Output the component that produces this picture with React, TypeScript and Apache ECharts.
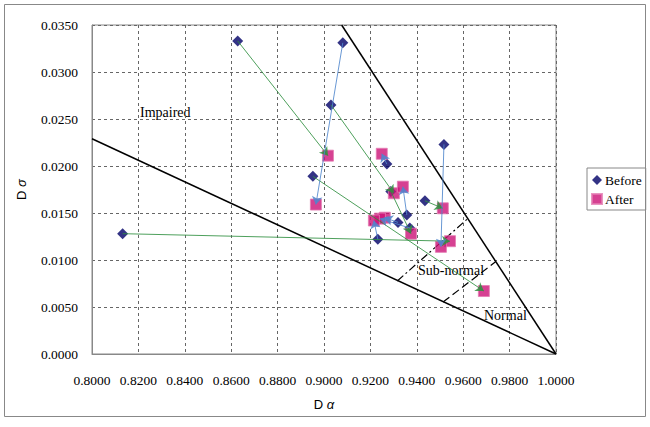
import React, { useEffect, useRef } from "react";
import * as echarts from "echarts";

// Before (diamonds) and After (squares), paired by index
const beforeX = [0.8132, 0.8628, 0.9081, 0.9030, 0.8952, 0.9271, 0.9357, 0.9319, 0.9370, 0.9232, 0.9517, 0.9435, 0.9288];
const beforeY = [0.0128, 0.0333, 0.0331, 0.0265, 0.0189, 0.0202, 0.0148, 0.0140, 0.0134, 0.0122, 0.0223, 0.0163, 0.0173];
const afterX = [0.9543, 0.9017, 0.8965, 0.9301, 0.9689, 0.9249, 0.9340, 0.9262, 0.9241, 0.9215, 0.9504, 0.9512, 0.9375];
const afterY = [0.0120, 0.0211, 0.0159, 0.0171, 0.0067, 0.0213, 0.0178, 0.0145, 0.0144, 0.0142, 0.0114, 0.0155, 0.0128];
const arrowKind = ["g", "g", "b", "g", "g", "b", "b", "b", "b", "b", "b", "g", "g"];

// Region boundaries
const impairedLine = [[0.8, 0.0229], [1.0, 0.0]];
const normalEdge = [[0.9076, 0.035], [1.0, 0.0]];
const subNormalInner = [[0.9316, 0.00777], [0.962, 0.01441]];
const subNormalOuter = [[0.9513, 0.00553], [0.9741, 0.00983]];

const xTicks = { min: 0.8, max: 1.0, interval: 0.02 };
const yTicks = { min: 0, max: 0.035, interval: 0.005 };

const SERIF = "'Liberation Serif', 'Times New Roman', serif";
const SANS = "'Liberation Sans', Arial, sans-serif";

export default function App() {
  const ref = useRef<HTMLDivElement>(null);
  useEffect(() => {
    if (!ref.current) return;
    const chart = echarts.init(ref.current, undefined, { renderer: "svg" });
    const greenArrows = [];
    const blueArrows = [];
    for (let i = 0; i < beforeX.length; i++) {
      const d = { coords: [[beforeX[i], beforeY[i]], [afterX[i], afterY[i]]] };
      if (arrowKind[i] === "g") greenArrows.push(d);
      else blueArrows.push(d);
    }
    chart.setOption({
      animation: false,
      backgroundColor: "#fff",
      grid: {
        left: 92,
        top: 25,
        right: 94,
        bottom: 73,
        show: true,
        borderColor: "#888",
        borderWidth: 1,
      },
      xAxis: {
        type: "value",
        min: xTicks.min,
        max: xTicks.max,
        interval: xTicks.interval,
        name: "D {i|α}",
        nameLocation: "middle",
        nameGap: 44,
        nameTextStyle: {
          fontFamily: SANS,
          fontSize: 13,
          color: "#000",
          rich: { i: { fontStyle: "italic", fontFamily: SANS, fontSize: 13 } },
        },
        axisLine: { show: true, lineStyle: { color: "#888" } },
        axisTick: { show: false },
        axisLabel: {
          formatter: (v: number) => v.toFixed(4),
          fontFamily: SERIF,
          fontSize: 13.5,
          color: "#000",
          margin: 19,
        },
        splitLine: { show: true, lineStyle: { color: "#666", type: [3, 3] } },
      },
      yAxis: {
        type: "value",
        min: yTicks.min,
        max: yTicks.max,
        interval: yTicks.interval,
        name: "D {i|σ}",
        nameLocation: "middle",
        nameGap: 64,
        nameTextStyle: {
          fontFamily: SANS,
          fontSize: 13,
          color: "#000",
          rich: { i: { fontStyle: "italic", fontFamily: SANS, fontSize: 13 } },
        },
        axisLine: { show: true, lineStyle: { color: "#888" } },
        axisTick: { show: false },
        axisLabel: {
          formatter: (v: number) => v.toFixed(4),
          fontFamily: SERIF,
          fontSize: 13.5,
          color: "#000",
          margin: 14,
        },
        splitLine: { show: true, lineStyle: { color: "#666", type: [3, 3] } },
      },
      legend: {
        data: ["Before", "After"],
        orient: "vertical",
        left: 587,
        top: 168,
        borderColor: "#888",
        borderWidth: 1,
        padding: [5, 4, 4, 4],
        itemWidth: 10,
        itemHeight: 10,
        itemGap: 5,
        textStyle: { fontFamily: SERIF, fontSize: 13.5, color: "#000", padding: [0, 0, 0, -2] },
      },
      graphic: [
        {
          type: "rect",
          shape: { x: 4.5, y: 4.5, width: 641, height: 412 },
          style: { fill: "none", stroke: "#888", lineWidth: 1 },
          silent: true,
        },
        {
          type: "text",
          x: 140,
          y: 112,
          style: { text: "Impaired", fontFamily: SERIF, fontSize: 14, fill: "#000", verticalAlign: "middle" },
        },
        {
          type: "text",
          x: 418,
          y: 270,
          style: { text: "Sub-normal", fontFamily: SERIF, fontSize: 14, fill: "#000", verticalAlign: "middle" },
        },
        {
          type: "text",
          x: 484,
          y: 315,
          style: { text: "Normal", fontFamily: SERIF, fontSize: 14, fill: "#000", verticalAlign: "middle" },
        },
      ],
      series: [
        {
          name: "bounds",
          type: "lines",
          coordinateSystem: "cartesian2d",
          silent: true,
          lineStyle: { color: "#000", width: 1.5, opacity: 1 },
          data: [{ coords: impairedLine }, { coords: normalEdge }],
          z: 3,
        },
        {
          name: "subInner",
          type: "lines",
          coordinateSystem: "cartesian2d",
          silent: true,
          lineStyle: { color: "#000", width: 1.2, type: [8, 3, 2, 3], opacity: 1 },
          data: [{ coords: subNormalInner }],
          z: 3,
        },
        {
          name: "subOuter",
          type: "lines",
          coordinateSystem: "cartesian2d",
          silent: true,
          lineStyle: { color: "#000", width: 1.2, type: [8, 4], opacity: 1 },
          data: [{ coords: subNormalOuter }],
          z: 3,
        },
        {
          name: "Before",
          type: "scatter",
          symbol: "diamond",
          symbolSize: 11,
          itemStyle: { color: "#000066" },
          data: beforeX.map((x, i) => [x, beforeY[i]]),
          z: 4,
        },
        {
          name: "After",
          type: "scatter",
          symbol: "rect",
          symbolSize: 11,
          itemStyle: { color: "#CC1177", borderColor: "#E37AB2", borderWidth: 1 },
          data: afterX.map((x, i) => [x, afterY[i]]),
          z: 5,
        },
        {
          name: "greenArrows",
          type: "lines",
          coordinateSystem: "cartesian2d",
          silent: true,
          symbol: ["none", "arrow"],
          symbolSize: 8,
          lineStyle: { color: "#2F8F3F", width: 1, opacity: 0.85 },
          data: greenArrows,
          z: 6,
        },
        {
          name: "blueArrows",
          type: "lines",
          coordinateSystem: "cartesian2d",
          silent: true,
          symbol: ["none", "arrow"],
          symbolSize: 8,
          lineStyle: { color: "#4F86CC", width: 1, opacity: 0.85 },
          data: blueArrows,
          z: 6,
        },
      ],
    });
    return () => chart.dispose();
  }, []);
  return (
    <div
      ref={ref}
      style={{ position: "absolute", left: 0, top: 0, width: 650, height: 427 }}
    />
  );
}
